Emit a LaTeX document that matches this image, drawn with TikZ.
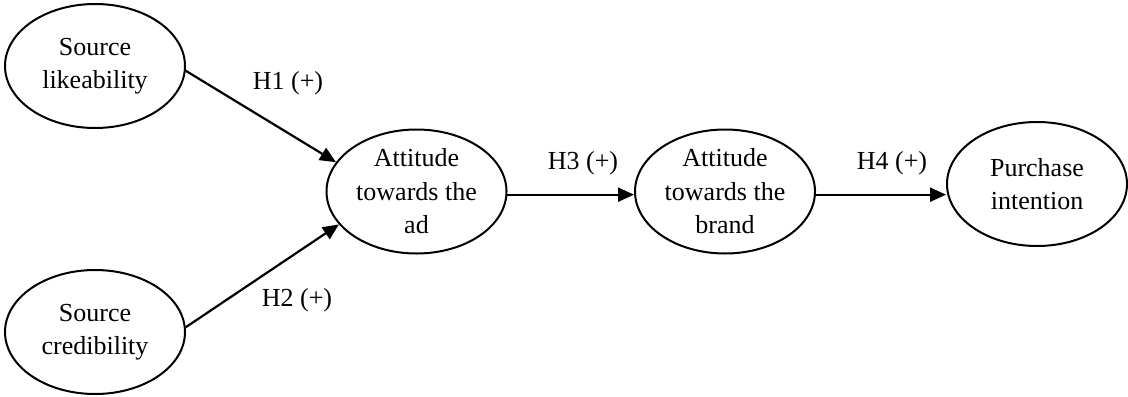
\documentclass[tikz,border=0pt]{standalone}
\usepackage{fontspec}
\setmainfont{Liberation Serif}
\usetikzlibrary{shapes.geometric,arrows.meta}
\begin{document}
\begin{tikzpicture}[x=0.5pt,y=-0.5pt,
  construct/.style={draw,line width=1pt,ellipse,inner sep=0pt,minimum width=90pt,minimum height=62pt,align=center,font=\fontsize{13}{16.8}\selectfont},
  hyp/.style={font=\fontsize{13}{16.5}\selectfont,inner sep=0pt},
  link/.style={line width=1.1pt,-{Triangle[length=8pt,width=7pt]}}]
\useasboundingbox (0,0) rectangle (1128,396);
\node[construct] (like) at (95,66) {Source\\likeability};
\node[construct] (cred) at (95,332) {Source\\credibility};
\node[construct] (ad) at (416.5,191.5) {Attitude\\towards the\\ad};
\node[construct] (brand) at (725,191.5) {Attitude\\towards the\\brand};
\node[construct] (purch) at (1037,184) {Purchase\\intention};
\draw[link] (like.-3) -- (ad.160);
\draw[link] (cred.3) -- (ad.203);
\draw[link] (ad.-2) -- (ad.-2 -| brand.west);
\draw[link] (brand.-2) -- (brand.-2 -| purch.west);
\node[hyp] (h1) at (288,83) {H1 (+)};
\node[hyp] (h2) at (297,300) {H2 (+)};
\node[hyp] (h3) at (583,163) {H3 (+)};
\node[hyp] (h4) at (892,163) {H4 (+)};
\end{tikzpicture}
\end{document}
